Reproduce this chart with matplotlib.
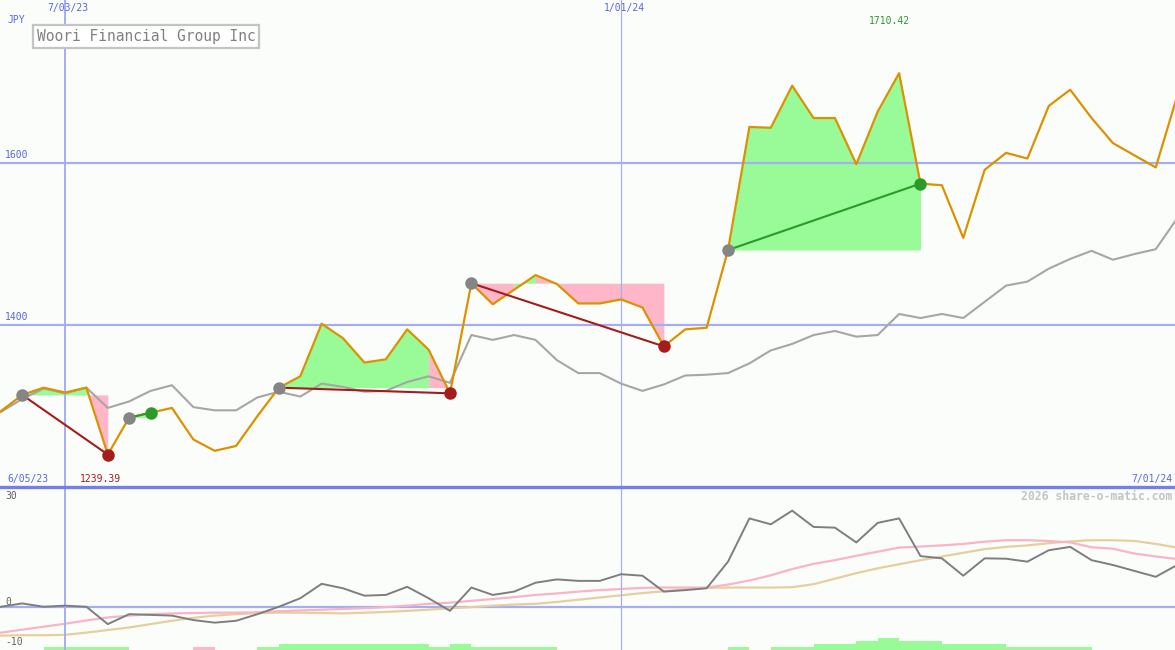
import matplotlib
matplotlib.use("Agg")
import matplotlib.pyplot as plt

W, H = 1175, 650

# weekly closes (JPY), first point 6/12/23, last 7/01/24
price = [1293, 1313, 1322, 1316, 1322, 1239.39, 1285, 1291, 1297, 1258,
         1244, 1250, 1287, 1322, 1336, 1401, 1383, 1353, 1357, 1394,
         1369, 1315, 1451, 1425, 1443, 1461, 1450, 1426, 1426, 1431,
         1421, 1373, 1394, 1396, 1492, 1644, 1643, 1695, 1655, 1655,
         1598, 1663, 1710.42, 1574, 1572, 1507, 1591, 1612, 1605, 1670,
         1690, 1655, 1624, 1609, 1594, 1682]

avg = [1292, 1308, 1321, 1315, 1322, 1297, 1305, 1318, 1325, 1298,
       1294, 1294, 1310, 1317, 1311, 1327, 1323, 1317, 1318, 1329,
       1336, 1328, 1387, 1381, 1387, 1381, 1356, 1340, 1340, 1327,
       1318, 1326, 1337, 1338, 1340, 1352, 1368, 1376, 1387, 1392,
       1385, 1387, 1413, 1408, 1413, 1408, 1428, 1448, 1453, 1469,
       1481, 1491, 1480, 1487, 1493, 1531]

# lower panel
osc = [0.2, 1.1, 0.2, 0.5, 0.2, -4.5, -1.8, -2.0, -2.2, -3.4,
       -4.1, -3.6, -1.8, 0.2, 2.5, 6.4, 5.2, 3.2, 3.4, 5.6,
       2.5, -0.9, 5.4, 3.4, 4.3, 6.7, 7.6, 7.2, 7.2, 9.0,
       8.6, 4.3, 4.7, 5.2, 12.4, 24.1, 22.5, 26.2, 21.8, 21.6,
       17.6, 22.9, 24.1, 13.9, 13.3, 8.6, 13.3, 13.2, 12.4, 15.5,
       16.4, 12.8, 11.5, 9.9, 8.3, 11.5]

osc_pink = [-6.8, -6.0, -5.2, -4.4, -3.5, -2.7, -2.2, -1.8, -1.6, -1.5,
            -1.4, -1.4, -1.3, -1.0, -0.8, -0.6, -0.4, -0.2, 0.1, 0.5,
            1.0, 1.3, 1.8, 2.3, 2.8, 3.4, 3.8, 4.3, 4.7, 5.0,
            5.3, 5.4, 5.4, 5.4, 6.2, 7.3, 8.7, 10.4, 11.8, 12.8,
            14.0, 15.1, 16.2, 16.5, 16.8, 17.2, 17.8, 18.2, 18.2, 18.0,
            17.6, 16.3, 15.9, 14.6, 13.8, 13.1]

osc_tan = [-7.6, -7.5, -7.5, -7.4, -6.8, -6.1, -5.4, -4.5, -3.6, -2.8,
           -2.2, -1.8, -1.5, -1.4, -1.4, -1.5, -1.6, -1.4, -1.2, -0.9,
           -0.6, -0.2, 0.1, 0.5, 0.8, 1.0, 1.5, 2.1, 2.7, 3.3,
           3.9, 4.4, 4.9, 5.3, 5.4, 5.4, 5.4, 5.5, 6.3, 7.8,
           9.3, 10.6, 11.7, 12.8, 13.8, 14.8, 15.8, 16.4, 16.8, 17.4,
           17.9, 18.2, 18.2, 18.0, 17.2, 16.2]

# weekly bars at the bottom (+ green, - pink)
bars = [0, 0, 1, 1, 1, 1, 0, 0, 0, -1, 0, 0, 1, 2, 2, 2, 2, 2, 2, 2,
        1, 2, 1, 1, 1, 1, 0, 0, 0, 0, 0, 0, 0, 0, 1, 0, 1, 1, 2, 2,
        3, 4, 3, 3, 2, 2, 2, 1, 1, 1, 1, 0, 0, 0, 0]

# (entry week, exit week)
trades = [(1, 5), (6, 7), (13, 21), (22, 31), (34, 43)]

price_levels = [1400, 1600]
date_marks = [(3, "7/03/23"), (29, "1/01/24")]
osc_labels = [30, 0, -10]

BLUE_TXT = "#5a64e6"
GRID = "#a4aef0"
BG = "#fbfdfb"
GREEN_FILL = "#98fb98"
PINK_FILL = "#ffb6c8"

fig = plt.figure(figsize=(W / 100, H / 100), dpi=100)
fig.patch.set_facecolor(BG)

def fx(px):
    return px / W

def fy(py):
    return 1 - py / H

ax = fig.add_axes([0, fy(487), 1, 487 / H])
ax2 = fig.add_axes([0, 0, 1, fy(487)])
for a in (ax, ax2):
    a.set_facecolor(BG)
    a.set_xlim(-0.04, 54.9)
    a.axis("off")
ax.set_ylim(1199.3, 1800.8)
ax2.set_ylim(-11.5, 32.6)

x = list(range(len(price)))

# grid
for lv in price_levels:
    ax.axhline(lv, color=GRID, lw=1.6, zorder=4)
for i, lab in date_marks:
    w = 1.4 if i == 3 else 0.9
    ax.axvline(i, color=GRID, lw=w, zorder=4)
    ax2.axvline(i, color=GRID, lw=w, zorder=4)
ax2.axhline(0, color=GRID, lw=1.6, zorder=1)

# trade fills, colour of each week decided by where it closes vs entry
for s, e in trades:
    entry = price[s]
    k = s
    while k < e:
        up = price[k + 1] >= entry
        j = k
        while j < e and (price[j + 1] >= entry) == up:
            j += 1
        ax.fill_between(x[k:j + 1], price[k:j + 1], entry,
                        color=GREEN_FILL if up else PINK_FILL, lw=0, zorder=3)
        k = j

ax.plot(x, avg, color="#a6a6a6", lw=1.5, zorder=5)
ax.plot(x, price, color="#dc9200", lw=1.6, zorder=6)

for s, e in trades:
    win = price[e] > price[s]
    lc = "#2a9a2a" if win else "#a41c1c"
    ax.plot([s, e], [price[s], price[e]], color=lc, lw=1.5, zorder=7)
    ax.plot(s, price[s], "o", color="#858585", ms=9, zorder=8, mec="none")
    ax.plot(e, price[e], "o", color=lc, ms=9, zorder=8, mec="none")

# lower panel
for k, v in enumerate(bars):
    if v:
        ax2.bar(k, abs(v) * 0.82, bottom=-11.5, width=1, align="edge",
                color=GREEN_FILL if v > 0 else PINK_FILL, lw=0, zorder=2)
ax2.plot(x, osc_tan, color="#e6cf9e", lw=1.6, zorder=3)
ax2.plot(x, osc_pink, color="#f9b4c8", lw=1.6, zorder=3)
ax2.plot(x, osc, color="#7e7e7e", lw=1.4, zorder=4)

# separator
fig.add_artist(plt.Line2D([0, 1], [fy(487), fy(487)], color="#7480ea", lw=2.4))

mono = "DejaVu Sans Mono"
for i, lab in date_marks:
    px = 0.85 + i * 21.385
    fig.text(fx(px + 3), fy(8), lab, color=BLUE_TXT, fontsize=7, family=mono,
             ha="center", va="center")
fig.text(fx(7), fy(20), "JPY", color=BLUE_TXT, fontsize=7, family=mono, va="center")
fig.text(fx(7), fy(479), "6/05/23", color=BLUE_TXT, fontsize=7, family=mono, va="center")
fig.text(fx(1172), fy(479), "7/01/24", color=BLUE_TXT, fontsize=7, family=mono,
         va="center", ha="right")
for lv in price_levels:
    ax.annotate(str(lv), (0, lv), xycoords=("axes fraction", "data"),
                xytext=(5, 3), textcoords="offset pixels", color=BLUE_TXT,
                fontsize=7, family=mono, va="bottom")
for lv, off in zip(osc_labels, [1, 5, 2]):
    ax2.annotate(str(lv), (0, lv), xycoords=("axes fraction", "data"),
                 xytext=(5, off), textcoords="offset pixels", color="#606060",
                 fontsize=7, family=mono, va="center")

lo = min(price)
hi = max(price)
fig.text(fx(100), fy(479), f"{lo:.2f}", color="#a41c1c", fontsize=7, family=mono,
         ha="center", va="center")
fig.text(fx(889), fy(21), f"{hi:.2f}", color="#2a9a2a", fontsize=7, family=mono,
         ha="center", va="center")

fig.text(fx(37), fy(36.5), "Woori Financial Group Inc", color="#808080",
         fontsize=10.5, family=mono, va="center",
         bbox=dict(boxstyle="square,pad=0.25", fc="white", ec="#c4c4c4", lw=1.6))
fig.text(fx(1172), fy(496), "2026 share-o-matic.com", color="#c4c4c4",
         fontsize=8.3, family=mono, weight="bold", ha="right", va="center")

fig.savefig("out.png", dpi=100, facecolor=BG)
